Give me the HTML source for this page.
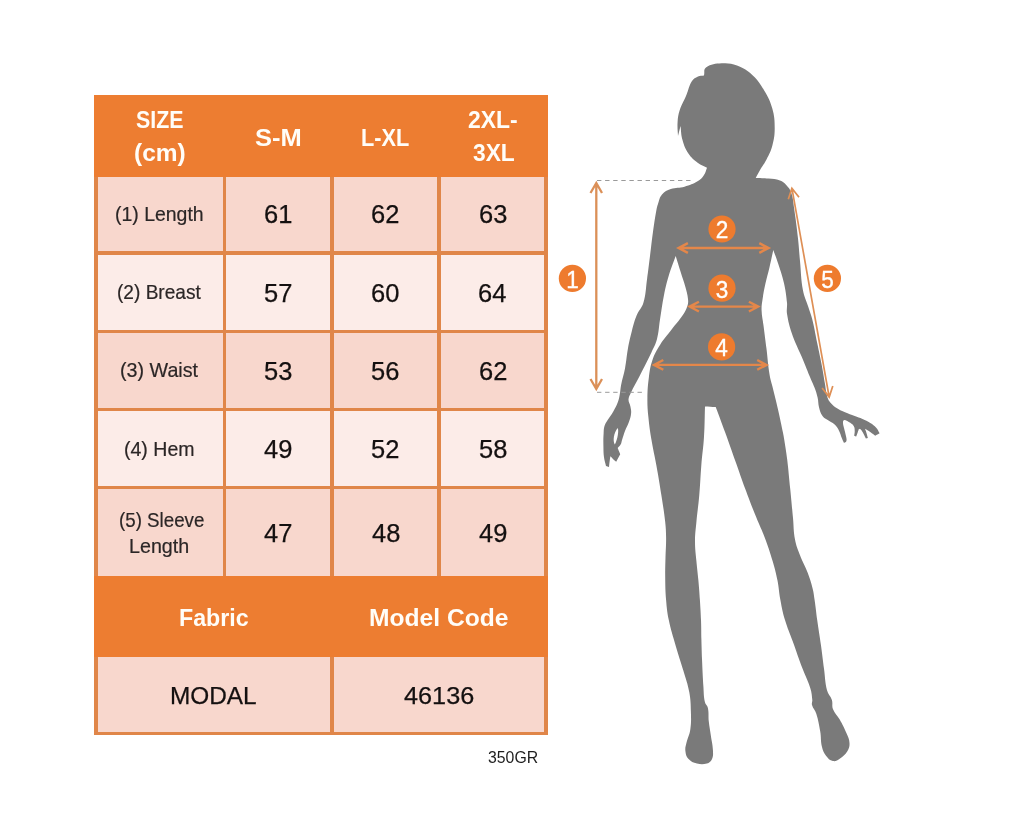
<!DOCTYPE html>
<html lang="en">
<head>
<meta charset="utf-8">
<title>Size Chart</title>
<style>
html,body{margin:0;padding:0;background:#fff;}
body{width:1024px;height:819px;position:relative;overflow:hidden;font-family:"Liberation Sans",sans-serif;}
.tbl{position:absolute;left:94.2px;top:94.6px;width:454px;height:640.9px;background:#E08649;}
.hd{position:absolute;left:94.2px;width:454px;background:#ED7D31;}
.c{position:absolute;}
.t{position:absolute;white-space:nowrap;color:#1a1a1a;transform-origin:0 0;}
.h{color:#fffdf8;font-weight:bold;}
.l{color:#2b2626;-webkit-text-stroke:0.2px #2b2626;}
.n{color:#141010;-webkit-text-stroke:0.25px #141010;}
.s{color:#1e1e1e;}
.fig{position:absolute;left:0;top:0;}
</style>
</head>
<body>
<div class="tbl"></div>
<div class="hd" style="top:94.5px;height:82px"></div>
<div class="hd" style="top:576px;height:81px"></div>
<div class="c" style="left:97.5px;top:176.5px;width:125px;height:74.5px;background:#F8D7CD"></div>
<div class="c" style="left:226px;top:176.5px;width:104.2px;height:74.5px;background:#F8D7CD"></div>
<div class="c" style="left:333.6px;top:176.5px;width:103.6px;height:74.5px;background:#F8D7CD"></div>
<div class="c" style="left:440.7px;top:176.5px;width:103.8px;height:74.5px;background:#F8D7CD"></div>
<div class="c" style="left:97.5px;top:254.5px;width:125px;height:75px;background:#FCECE8"></div>
<div class="c" style="left:226px;top:254.5px;width:104.2px;height:75px;background:#FCECE8"></div>
<div class="c" style="left:333.6px;top:254.5px;width:103.6px;height:75px;background:#FCECE8"></div>
<div class="c" style="left:440.7px;top:254.5px;width:103.8px;height:75px;background:#FCECE8"></div>
<div class="c" style="left:97.5px;top:333px;width:125px;height:74.5px;background:#F8D7CD"></div>
<div class="c" style="left:226px;top:333px;width:104.2px;height:74.5px;background:#F8D7CD"></div>
<div class="c" style="left:333.6px;top:333px;width:103.6px;height:74.5px;background:#F8D7CD"></div>
<div class="c" style="left:440.7px;top:333px;width:103.8px;height:74.5px;background:#F8D7CD"></div>
<div class="c" style="left:97.5px;top:411px;width:125px;height:75px;background:#FCECE8"></div>
<div class="c" style="left:226px;top:411px;width:104.2px;height:75px;background:#FCECE8"></div>
<div class="c" style="left:333.6px;top:411px;width:103.6px;height:75px;background:#FCECE8"></div>
<div class="c" style="left:440.7px;top:411px;width:103.8px;height:75px;background:#FCECE8"></div>
<div class="c" style="left:97.5px;top:489px;width:125px;height:87px;background:#F8D7CD"></div>
<div class="c" style="left:226px;top:489px;width:104.2px;height:87px;background:#F8D7CD"></div>
<div class="c" style="left:333.6px;top:489px;width:103.6px;height:87px;background:#F8D7CD"></div>
<div class="c" style="left:440.7px;top:489px;width:103.8px;height:87px;background:#F8D7CD"></div>
<div class="c" style="left:97.5px;top:657px;width:232.7px;height:74.8px;background:#F8D7CD"></div>
<div class="c" style="left:333.6px;top:657px;width:210.9px;height:74.8px;background:#F8D7CD"></div>
<div id="h_size" class="t h" style="left:136.09px;top:105.53px;font-size:24px;line-height:28.8px;transform:scaleX(0.8894)">SIZE</div>
<div id="h_cm" class="t h" style="left:133.69px;top:138.53px;font-size:24px;line-height:28.8px;transform:scaleX(1.0204)">(cm)</div>
<div id="h_sm" class="t h" style="left:254.59px;top:124.28px;font-size:24px;line-height:28.8px;transform:scaleX(1.0619)">S-M</div>
<div id="h_lxl" class="t h" style="left:361.33px;top:124.28px;font-size:24px;line-height:28.8px;transform:scaleX(0.9049)">L-XL</div>
<div id="h_2xl" class="t h" style="left:468.42px;top:105.53px;font-size:24px;line-height:28.8px;transform:scaleX(0.9541)">2XL-</div>
<div id="h_3xl" class="t h" style="left:472.79px;top:138.53px;font-size:24px;line-height:28.8px;transform:scaleX(0.9492)">3XL</div>
<div id="h_fab" class="t h" style="left:178.62px;top:603.58px;font-size:24px;line-height:28.8px;transform:scaleX(0.9668)">Fabric</div>
<div id="h_mc" class="t h" style="left:369.15px;top:603.58px;font-size:24px;line-height:28.8px;transform:scaleX(1.0258)">Model Code</div>
<div id="l1" class="t l" style="left:114.96px;top:203.26px;font-size:19.8px;line-height:23.76px;transform:scaleX(0.9827)">(1) Length</div>
<div id="l2" class="t l" style="left:116.78px;top:280.51px;font-size:19.8px;line-height:23.76px;transform:scaleX(0.9648)">(2) Breast</div>
<div id="l3" class="t l" style="left:119.95px;top:358.86px;font-size:19.8px;line-height:23.76px;transform:scaleX(0.9954)">(3) Waist</div>
<div id="l4" class="t l" style="left:124.25px;top:438.06px;font-size:19.8px;line-height:23.76px;transform:scaleX(0.9872)">(4) Hem</div>
<div id="l5a" class="t l" style="left:118.83px;top:508.76px;font-size:19.8px;line-height:23.76px;transform:scaleX(0.9473)">(5) Sleeve</div>
<div id="l5b" class="t l" style="left:129.47px;top:535.06px;font-size:19.8px;line-height:23.76px;transform:scaleX(0.9948)">Length</div>
<div id="modal" class="t n" style="left:170.06px;top:681.84px;font-size:24px;line-height:28.8px;transform:scaleX(1.0154)">MODAL</div>
<div id="code" class="t n" style="left:403.56px;top:681.84px;font-size:24px;line-height:28.8px;transform:scaleX(1.0529)">46136</div>
<div id="gr" class="t s" style="left:487.88px;top:748.11px;font-size:16.5px;line-height:19.8px;transform:scaleX(0.9594)">350GR</div>
<div id="n00" class="t n" style="left:264.04px;top:199.10px;font-size:25px;line-height:30px;transform:scaleX(1.0200)">61</div>
<div id="n01" class="t n" style="left:371.29px;top:199.10px;font-size:25px;line-height:30px;transform:scaleX(1.0200)">62</div>
<div id="n02" class="t n" style="left:478.74px;top:199.10px;font-size:25px;line-height:30px;transform:scaleX(1.0200)">63</div>
<div id="n10" class="t n" style="left:264.12px;top:278.04px;font-size:25px;line-height:30px;transform:scaleX(1.0200)">57</div>
<div id="n11" class="t n" style="left:371.21px;top:278.04px;font-size:25px;line-height:30px;transform:scaleX(1.0200)">60</div>
<div id="n12" class="t n" style="left:478.00px;top:278.04px;font-size:25px;line-height:30px;transform:scaleX(1.0200)">64</div>
<div id="n20" class="t n" style="left:264.06px;top:356.24px;font-size:25px;line-height:30px;transform:scaleX(1.0200)">53</div>
<div id="n21" class="t n" style="left:371.27px;top:356.24px;font-size:25px;line-height:30px;transform:scaleX(1.0200)">56</div>
<div id="n22" class="t n" style="left:478.78px;top:356.24px;font-size:25px;line-height:30px;transform:scaleX(1.0200)">62</div>
<div id="n30" class="t n" style="left:263.79px;top:434.44px;font-size:25px;line-height:30px;transform:scaleX(1.0200)">49</div>
<div id="n31" class="t n" style="left:371.30px;top:434.44px;font-size:25px;line-height:30px;transform:scaleX(1.0200)">52</div>
<div id="n32" class="t n" style="left:478.72px;top:434.44px;font-size:25px;line-height:30px;transform:scaleX(1.0200)">58</div>
<div id="n40" class="t n" style="left:263.80px;top:517.60px;font-size:25px;line-height:30px;transform:scaleX(1.0200)">47</div>
<div id="n41" class="t n" style="left:372.15px;top:517.60px;font-size:25px;line-height:30px;transform:scaleX(1.0200)">48</div>
<div id="n42" class="t n" style="left:478.59px;top:517.60px;font-size:25px;line-height:30px;transform:scaleX(1.0200)">49</div>
<svg class="fig" width="1024" height="819" viewBox="0 0 1024 819" font-family="'Liberation Sans', sans-serif">
<path d="M755.7 178.0C760.8 178.2 763.3 178.0 768.4 178.5C773.1 179.0 775.6 178.9 780.0 180.5C782.8 181.5 784.0 182.6 786.0 184.8C788.5 187.6 790.0 189.0 791.2 192.6C793.3 198.9 793.2 202.4 794.2 209.0C795.9 220.7 796.7 226.6 798.0 238.4C799.0 247.4 799.1 252.0 800.0 261.0C801.1 272.6 800.8 278.5 802.9 290.0C804.2 297.2 806.3 300.5 808.5 307.5C810.0 312.3 811.1 314.6 812.3 319.5C814.6 328.8 815.3 333.6 817.2 343.0C819.1 352.4 820.2 357.0 822.0 366.4C823.3 373.4 823.8 377.0 825.0 384.0C825.6 387.5 825.7 389.3 826.4 392.7C827.0 395.5 827.1 396.9 828.3 399.5C829.1 401.3 829.9 402.0 831.2 403.4C833.4 405.5 834.5 406.7 837.0 408.3C840.0 410.2 841.7 410.8 845.0 412.2C848.8 413.9 850.8 414.5 854.7 416.0C857.8 417.2 859.5 417.6 862.5 419.0C865.7 420.4 867.3 421.1 870.3 423.0C872.9 424.6 874.2 425.6 876.2 427.8C877.9 429.7 878.2 431.0 879.6 433.2C877.8 434.2 877.0 434.7 875.2 435.7C872.5 433.7 871.2 432.7 868.4 430.8C867.1 429.9 866.4 429.6 865.0 428.8C865.6 430.4 865.9 431.1 866.4 432.7C867.1 434.8 867.3 435.9 867.9 438.0C867.1 438.2 866.7 438.4 865.9 438.6C864.9 436.6 864.6 435.6 863.5 433.7C862.6 432.1 862.3 431.2 861.0 429.8C860.4 429.1 859.8 429.2 859.0 428.8C858.4 430.4 858.2 431.1 857.6 432.7C857.0 434.3 856.8 435.0 856.2 436.6C855.4 436.2 855.0 436.1 854.2 435.7C854.4 433.7 854.8 432.8 854.7 430.8C854.6 428.8 854.8 427.6 853.7 425.9C852.3 423.8 850.9 423.3 848.8 422.0C847.2 421.0 846.3 420.0 844.4 420.0C843.4 420.0 843.0 421.0 843.0 422.0C842.9 424.4 843.5 425.6 844.0 427.9C844.7 431.0 845.3 432.5 845.9 435.7C846.3 437.8 846.9 438.9 846.4 441.0C846.1 442.2 845.0 442.2 844.0 443.0C843.2 441.2 842.7 440.4 842.0 438.6C840.7 435.5 840.5 433.8 839.0 430.8C837.8 428.3 837.2 427.0 835.2 425.0C833.2 423.0 831.6 422.6 829.3 421.0C826.5 419.0 824.5 418.7 822.5 416.0C820.2 413.0 820.0 410.9 819.0 407.3C818.0 403.5 818.5 401.4 817.6 397.6C816.7 393.6 816.0 391.7 814.6 387.8C813.4 384.6 812.5 383.1 811.2 380.0C807.3 370.7 805.5 365.9 801.6 356.6C797.7 347.2 795.1 342.8 791.8 333.2C789.2 325.6 788.3 321.6 787.0 313.7C786.3 309.4 787.4 307.1 787.0 302.8C786.2 294.9 785.7 291.0 784.0 283.3C782.2 275.4 780.7 271.5 778.2 263.8C776.4 258.2 775.3 255.5 773.3 250.0C771.7 257.1 771.1 260.6 769.4 267.7C767.9 274.0 766.9 277.0 765.5 283.3C764.1 289.5 763.5 292.7 762.6 299.0C761.9 303.6 761.4 305.9 761.6 310.6C761.8 316.6 762.7 319.5 763.5 325.4C764.7 334.8 765.3 339.4 766.5 348.8C767.7 359.0 767.9 364.1 769.5 374.2C770.2 379.0 771.2 381.3 772.3 386.0C774.6 395.4 775.9 400.0 778.0 409.4C780.1 418.7 781.1 423.4 783.0 432.8C783.6 435.7 783.8 437.1 784.3 440.0C785.5 447.8 786.3 451.7 787.2 459.5C788.6 471.2 789.0 477.1 790.2 488.8C791.4 500.5 791.9 506.3 793.0 518.0C793.8 526.6 793.4 531.1 795.0 539.6C796.2 546.0 797.7 549.1 800.0 555.2C802.7 562.4 805.0 565.6 807.7 572.8C810.0 578.9 811.0 582.1 812.6 588.4C813.8 593.0 813.9 595.3 814.6 600.0C815.8 608.0 816.1 612.0 817.2 620.0C818.6 630.2 819.6 635.2 821.0 645.4C822.3 654.7 822.8 659.4 824.0 668.8C825.2 677.4 824.9 681.9 827.0 690.3C828.1 694.5 830.6 695.9 831.9 700.0C833.0 703.4 831.6 705.6 832.9 708.9C834.8 713.6 837.2 715.2 839.7 719.6C842.7 724.9 844.1 727.7 846.5 733.3C848.1 737.0 849.3 738.9 849.5 743.0C849.7 746.3 849.2 748.1 847.5 750.9C845.2 754.6 843.3 756.2 839.7 758.7C837.3 760.3 835.7 761.6 832.9 761.0C829.5 760.3 828.1 758.4 826.0 755.7C823.6 752.7 822.9 750.7 822.0 747.0C820.5 740.9 821.3 737.5 820.2 731.3C819.0 724.2 818.4 720.6 816.3 713.8C815.1 710.0 813.1 708.7 812.0 705.0C811.4 703.1 812.5 702.0 812.3 700.0C811.8 695.3 811.8 692.9 810.4 688.4C807.9 680.3 805.6 676.7 802.6 668.8C798.5 657.9 796.7 652.4 792.8 641.5C789.7 632.9 787.6 628.8 785.0 620.0C782.6 612.1 781.9 608.1 780.4 600.0C778.9 592.3 779.0 588.3 777.5 580.6C775.9 572.7 774.9 568.7 772.6 561.0C769.8 551.6 768.3 546.9 764.8 537.7C761.2 528.2 758.8 523.7 755.0 514.2C750.9 504.1 749.0 499.0 745.2 488.8C741.2 477.9 739.4 472.4 735.5 461.5C731.4 449.9 729.4 444.1 725.2 432.5C721.5 422.3 719.5 417.2 715.7 407.0C711.4 406.8 709.3 406.6 705.0 406.4C704.6 418.5 704.8 424.6 704.0 436.7C703.3 448.2 702.2 453.9 701.3 465.4C700.4 477.1 700.3 483.0 699.3 494.7C698.4 505.6 697.4 511.1 696.4 522.0C695.7 529.8 695.0 533.7 695.0 541.6C695.0 549.4 695.7 553.2 696.4 561.0C697.1 568.9 697.7 572.8 698.4 580.6C699.1 588.4 699.4 592.2 699.9 600.0C700.4 608.0 700.7 612.0 701.0 620.0C701.3 627.8 701.2 631.7 701.4 639.5C701.6 647.3 701.7 651.2 702.0 659.0C702.5 670.0 702.7 675.5 703.4 686.4C703.8 692.7 703.6 695.9 704.9 702.0C705.4 704.6 707.4 705.3 707.9 707.9C709.0 713.3 708.2 716.1 708.8 721.6C709.4 727.1 710.0 729.8 710.8 735.2C711.7 741.5 712.7 744.6 713.0 750.9C713.1 754.4 713.3 756.4 711.8 759.6C710.7 761.9 709.3 762.9 706.9 763.6C703.1 764.6 700.8 764.6 697.0 763.6C693.1 762.6 691.0 761.6 688.3 758.7C686.1 756.2 685.8 754.2 685.4 750.9C685.0 747.7 685.7 746.1 686.4 743.0C687.7 737.5 689.5 735.0 690.3 729.4C691.3 722.4 691.1 718.8 690.9 711.8C690.7 704.0 690.7 700.0 689.3 692.3C687.7 683.5 685.9 679.4 683.4 670.8C680.4 660.6 678.5 655.6 675.6 645.4C672.7 635.3 671.0 630.3 668.8 620.0C667.1 612.1 666.8 608.0 666.1 600.0C665.3 590.7 665.3 586.0 665.2 576.7C665.1 568.9 665.3 565.0 665.5 557.2C665.7 549.4 666.2 545.5 666.1 537.7C666.0 531.4 665.9 528.3 665.2 522.0C664.0 511.0 663.0 505.6 661.3 494.7C659.5 483.0 658.5 477.1 656.4 465.4C654.6 455.2 653.2 450.2 651.5 440.0C650.0 430.9 649.3 426.4 648.4 417.2C647.6 409.4 647.3 405.5 647.4 397.7C647.5 389.8 647.8 385.8 648.8 378.0C649.7 370.9 650.0 367.3 652.3 360.5C654.5 353.9 656.3 350.9 660.0 345.0C664.2 338.3 667.0 335.5 671.8 329.3C676.0 323.8 678.6 321.4 682.5 315.6C684.9 312.0 686.0 310.0 687.4 305.9C688.3 303.3 688.3 301.8 688.0 299.0C687.5 294.1 686.7 291.7 685.4 287.0C683.7 280.8 682.4 277.8 680.5 271.6C678.6 265.4 677.6 262.2 675.7 256.0C672.9 263.8 671.2 267.6 668.8 275.5C666.5 283.2 665.6 287.1 664.0 295.0C662.1 304.7 661.6 309.7 660.0 319.5C658.8 327.3 659.0 331.4 657.0 339.0C655.5 344.7 653.8 347.3 651.3 352.7C647.2 361.4 644.9 365.6 640.5 374.2C638.3 378.6 637.0 380.7 634.8 385.0C633.2 388.1 632.3 389.6 630.9 392.8C629.8 395.4 628.6 396.7 628.5 399.6C628.4 402.5 629.9 403.7 630.4 406.5C630.9 409.2 631.4 410.6 631.1 413.3C630.8 416.9 630.1 418.6 628.9 422.0C627.6 425.7 626.4 427.3 625.0 430.9C623.7 434.4 623.2 436.2 622.1 439.7C621.5 441.7 621.6 442.8 620.6 444.6C619.8 446.2 618.9 446.6 617.7 448.0C618.7 450.5 619.2 451.8 620.2 454.3C618.6 457.3 617.8 458.7 616.2 461.7C615.5 461.1 615.0 460.9 614.3 460.2C612.7 458.7 612.0 457.9 610.4 456.3C610.0 459.0 609.8 460.3 609.4 463.0C609.2 464.6 609.2 465.4 609.0 467.0C607.8 466.6 607.2 466.4 606.0 466.0C605.2 462.5 604.4 460.8 604.0 457.3C603.4 452.6 603.5 450.2 603.4 445.5C603.3 440.8 603.3 438.5 603.6 433.8C603.8 430.7 603.6 429.0 604.5 426.0C605.2 423.5 606.2 422.4 607.5 420.2C609.7 416.6 611.2 415.0 613.3 411.4C615.3 408.0 616.3 406.3 617.7 402.6C618.9 399.6 619.1 398.0 619.7 394.8C620.5 390.9 620.3 388.9 621.1 385.0C622.4 378.3 623.7 375.1 625.0 368.4C626.5 360.6 626.5 356.6 627.9 348.8C629.2 341.7 630.0 338.2 631.8 331.2C633.5 324.9 634.1 321.6 636.6 315.6C638.8 310.2 641.8 308.4 643.4 302.8C646.0 293.7 645.7 288.8 647.0 279.4C648.3 270.1 648.8 265.4 650.0 256.0C651.2 246.6 651.6 241.9 652.9 232.5C654.2 223.1 654.9 218.4 656.6 209.0C657.0 207.0 657.3 205.9 658.0 204.0C659.4 200.1 659.3 197.6 662.0 194.5C664.7 191.3 666.9 190.4 670.8 189.0C676.1 187.2 679.2 188.3 684.5 186.7C690.1 185.0 693.0 184.0 698.0 181.0C700.9 179.3 702.1 177.8 704.0 175.0C705.8 172.4 705.8 170.7 707.0 167.8C703.4 165.9 701.2 165.5 698.0 163.0C693.7 159.7 691.4 158.0 688.4 153.5C685.1 148.6 684.1 145.7 682.5 140.0C680.9 134.6 681.3 131.6 680.5 126.0C679.5 130.0 679.0 132.0 678.0 136.0C677.8 130.4 677.2 127.6 677.6 122.0C677.9 117.3 678.2 114.9 679.6 110.5C681.7 104.1 683.8 101.2 686.4 95.0C688.7 89.4 688.8 86.1 692.0 81.0C693.6 78.4 695.3 77.7 698.0 76.4C700.2 75.4 701.6 75.8 704.0 75.4C704.8 72.3 703.3 69.4 706.0 67.6C711.3 63.9 715.1 63.7 721.6 63.3C727.8 62.9 731.2 63.3 737.0 65.6C743.9 68.3 747.3 70.4 752.8 75.4C758.5 80.7 760.5 84.3 764.5 91.0C768.4 97.6 770.3 101.2 772.3 108.6C774.4 116.1 774.7 120.2 774.7 128.0C774.7 135.1 774.1 138.8 772.3 145.7C770.8 151.5 769.2 154.1 766.5 159.4C764.5 163.4 762.9 165.1 760.6 169.0C758.5 172.5 757.7 174.4 755.7 178.0Z" fill="#7A7A7A"/>
<path d="M617.7 428C619 431 617.6 439 614.8 444.6C612.6 441 613.6 433 617.7 428Z" fill="#fff"/>
<path d="M597 180.5H691.5M597 392.3H642.5" stroke="#9a9a9a" stroke-width="1" stroke-dasharray="4.4 3.7" fill="none"/>
<path d="M596.3 183.0 L596.3 389.0 M590.5 379.0 L596.3 389.0 L602.0 379.0 M602.0 193.0 L596.3 183.0 L590.5 193.0" fill="none" stroke="#DB9058" stroke-width="2.30" stroke-linecap="butt" stroke-linejoin="miter"/>
<path d="M791.9 188.2 L829.2 397.1 M822.1 388.0 L829.2 397.1 L832.8 386.1 M799.0 197.3 L791.9 188.2 L788.3 199.2" fill="none" stroke="#DE8F55" stroke-width="1.70" stroke-linecap="butt" stroke-linejoin="miter"/>
<path d="M678.6 248.0 L768.6 248.0 M759.3 252.9 L768.6 248.0 L759.3 243.1 M687.9 243.1 L678.6 248.0 L687.9 252.9" fill="none" stroke="#E4874A" stroke-width="2.40" stroke-linecap="butt" stroke-linejoin="miter"/>
<path d="M689.6 306.6 L758.2 306.6 M748.9 311.5 L758.2 306.6 L748.9 301.7 M698.9 301.7 L689.6 306.6 L698.9 311.5" fill="none" stroke="#E4874A" stroke-width="2.40" stroke-linecap="butt" stroke-linejoin="miter"/>
<path d="M654.0 364.9 L766.5 364.9 M757.2 369.8 L766.5 364.9 L757.2 360.0 M663.3 360.0 L654.0 364.9 L663.3 369.8" fill="none" stroke="#E4874A" stroke-width="2.40" stroke-linecap="butt" stroke-linejoin="miter"/>
<circle cx="572.4" cy="278.4" r="13.6" fill="#EE7B2E"/><text transform="translate(572.4 287.8) scale(0.96 1)" x="0" y="0" text-anchor="middle" font-size="23.5" fill="#fff" stroke="#fff" stroke-width="0.35">1</text>
<circle cx="722.0" cy="229.0" r="13.6" fill="#EE7B2E"/><text transform="translate(722.0 238.4) scale(0.96 1)" x="0" y="0" text-anchor="middle" font-size="23.5" fill="#fff" stroke="#fff" stroke-width="0.35">2</text>
<circle cx="722.0" cy="288.2" r="13.6" fill="#EE7B2E"/><text transform="translate(722.0 297.6) scale(0.96 1)" x="0" y="0" text-anchor="middle" font-size="23.5" fill="#fff" stroke="#fff" stroke-width="0.35">3</text>
<circle cx="721.6" cy="346.9" r="13.6" fill="#EE7B2E"/><text transform="translate(721.6 356.3) scale(0.96 1)" x="0" y="0" text-anchor="middle" font-size="23.5" fill="#fff" stroke="#fff" stroke-width="0.35">4</text>
<circle cx="827.4" cy="278.4" r="13.6" fill="#EE7B2E"/><text transform="translate(827.4 287.8) scale(0.96 1)" x="0" y="0" text-anchor="middle" font-size="23.5" fill="#fff" stroke="#fff" stroke-width="0.35">5</text>
</svg>
</body>
</html>
